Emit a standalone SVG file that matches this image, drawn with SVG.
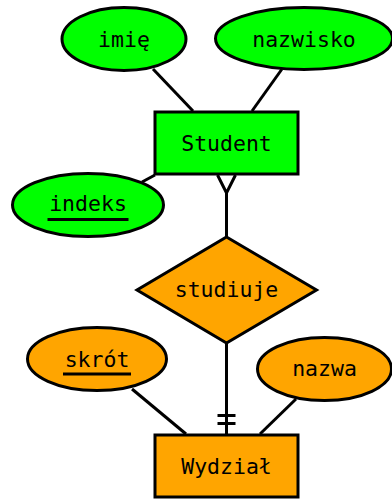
<svg xmlns="http://www.w3.org/2000/svg" width="392" height="499" viewBox="0 0 392 499">
<style>
.g{fill:#00ff00;stroke:#000;stroke-width:3}
.o{fill:#ffa500;stroke:#000;stroke-width:3}
.t{font-family:"DejaVu Sans Mono","Liberation Mono",monospace;font-size:21.5px;fill:#000;text-anchor:middle}
.l{stroke:#000;stroke-width:3;fill:none}
.u{stroke:#000;stroke-width:3}
</style>
<rect width="392" height="499" fill="#fff"/>
<g id="connectors">
<line class="l" x1="153" y1="69" x2="193" y2="111"/>
<line class="l" x1="282" y1="69" x2="252" y2="111"/>
<line class="l" x1="142" y1="182" x2="155" y2="175"/>
<polyline class="l" points="217.5,175 226.5,193 235.5,175"/>
<line class="l" x1="226.5" y1="193" x2="226.5" y2="237"/>
<line class="l" x1="226.5" y1="343" x2="226.5" y2="434"/>
<line class="l" x1="217.5" y1="415.5" x2="235.5" y2="415.5"/>
<line class="l" x1="217.5" y1="423.5" x2="235.5" y2="423.5"/>
<line class="l" x1="132" y1="389" x2="186" y2="434"/>
<line class="l" x1="296" y1="399" x2="260" y2="434"/>
</g>
<g id="imie">
<ellipse class="g" cx="124" cy="39" rx="62" ry="31.5"/>
<text class="t" x="124" y="46.5">imię</text>
</g>
<g id="nazwisko">
<ellipse class="g" cx="304" cy="38.5" rx="88.5" ry="31"/>
<text class="t" x="304" y="46.5">nazwisko</text>
</g>
<g id="student">
<rect class="g" x="155" y="112" width="143" height="62"/>
<text class="t" x="226.5" y="150.5">Student</text>
</g>
<g id="indeks">
<ellipse class="g" cx="88" cy="205" rx="75.5" ry="31.5"/>
<text class="t" x="88" y="211">indeks</text>
<line class="u" x1="47.5" y1="219.5" x2="128.5" y2="219.5"/>
</g>
<g id="studiuje">
<polygon class="o" points="226.5,237 316.5,290 226.5,343 137,290"/>
<text class="t" x="226.5" y="297">studiuje</text>
</g>
<g id="skrot">
<ellipse class="o" cx="97" cy="359" rx="69.5" ry="31.5"/>
<text class="t" x="97" y="366.5">skrót</text>
<line class="u" x1="63" y1="374" x2="131" y2="374"/>
</g>
<g id="nazwa">
<ellipse class="o" cx="324.5" cy="369" rx="67" ry="31.5"/>
<text class="t" x="324.5" y="376">nazwa</text>
</g>
<g id="wydzial">
<rect class="o" x="155" y="435" width="143" height="62"/>
<text class="t" x="226.5" y="473.5">Wydział</text>
</g>
</svg>
